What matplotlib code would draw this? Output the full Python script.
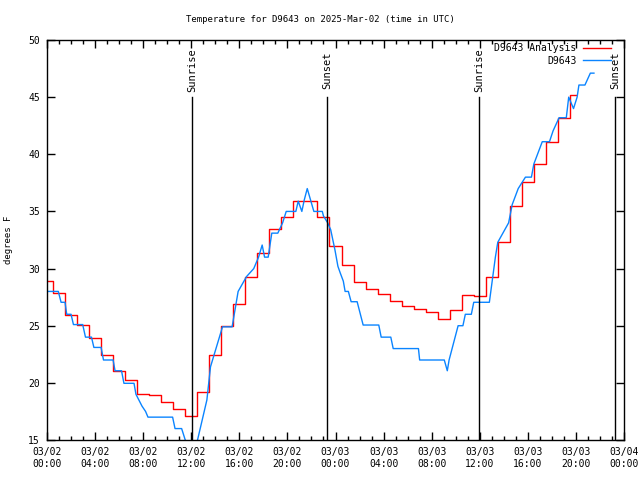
import matplotlib
matplotlib.use("Agg")
import matplotlib.pyplot as plt

plt.rcParams["font.family"] = ["DejaVu Sans Mono"]
plt.rcParams["font.size"] = 6.5

# hourly analysis values (hours since 03/02 00:00 UTC)
analysis_hours = list(range(0, 45))
analysis_temp = [28.9, 27.9, 25.9, 25.1, 23.9, 22.4, 21.0, 20.25, 19.0, 18.9,
                 18.3, 17.7, 17.1, 19.2, 22.4, 25.0, 26.9, 29.3, 31.4, 33.5,
                 34.5, 35.9, 35.9, 34.5, 32.0, 30.3, 28.8, 28.2, 27.75, 27.2,
                 26.7, 26.5, 26.2, 25.6, 26.4, 27.7, 27.6, 29.3, 32.3, 35.5,
                 37.6, 39.15, 41.1, 43.2, 45.15]

# station observations
obs_hours = [0.0, 0.94, 1.17, 1.5, 1.64, 2.0, 2.2, 2.97, 3.2, 3.7, 3.9, 4.5,
             4.7, 5.5, 5.66, 6.2, 6.4, 7.24, 7.4, 7.9, 8.2, 8.4, 10.45, 10.65,
             11.2, 11.8, 12.3, 13.3, 13.6, 14.6, 15.4, 15.9, 16.6, 17.2, 17.6,
             17.9, 18.1, 18.4, 18.7, 19.2, 19.6, 19.9, 20.7, 20.9, 21.2, 21.4,
             21.65, 22.2, 22.9, 23.0, 23.35, 23.6, 23.96, 24.2, 24.4, 24.65,
             24.8, 25.07, 25.3, 25.8, 26.3, 27.6, 27.8, 28.6, 28.8, 30.9, 31.0,
             33.05, 33.3, 33.45, 34.2, 34.6, 34.8, 35.3, 35.5, 36.8, 37.3,
             37.5, 38.4, 38.7, 39.2, 39.8, 40.3, 40.5, 41.2, 41.8, 42.1, 42.6,
             43.2, 43.4, 43.8, 44.1, 44.25, 44.75, 45.2, 45.5]
obs_temp = [28.0, 28.0, 27.05, 27.05, 26.0, 26.0, 25.1, 25.1, 24.0, 24.0, 23.1,
            23.1, 22.0, 22.0, 21.06, 21.06, 19.96, 19.96, 19.0, 17.97, 17.5,
            17.0, 17.0, 16.0, 16.0, 14.0, 14.0, 18.5, 21.4, 24.9, 24.9, 28.0,
            29.3, 30.0, 31.0, 32.06, 31.0, 31.0, 33.1, 33.1, 34.0, 35.0, 35.0,
            35.9, 35.0, 36.0, 37.0, 35.0, 35.0, 34.6, 34.0, 33.4, 31.6, 30.2,
            29.6, 28.9, 28.0, 28.0, 27.1, 27.1, 25.06, 25.06, 24.0, 24.0, 23.0,
            23.0, 22.0, 22.0, 21.06, 22.0, 25.0, 25.0, 26.0, 26.0, 27.05,
            27.05, 31.0, 32.3, 34.0, 35.6, 37.0, 38.0, 38.0, 39.15, 41.1,
            41.1, 42.05, 43.2, 43.2, 45.0, 44.0, 45.0, 46.06, 46.06, 47.1,
            47.1]

events = ["Sunrise", "Sunset", "Sunrise", "Sunset"]
event_hours = [12.06, 23.28, 35.94, 47.27]

tick_hours = [0, 4, 8, 12, 16, 20, 24, 28, 32, 36, 40, 44, 48]
tick_labels = ["03/02\n00:00", "03/02\n04:00", "03/02\n08:00", "03/02\n12:00",
               "03/02\n16:00", "03/02\n20:00", "03/03\n00:00", "03/03\n04:00",
               "03/03\n08:00", "03/03\n12:00", "03/03\n16:00", "03/03\n20:00",
               "03/04\n00:00"]

fig = plt.figure(figsize=(6.4, 4.8), dpi=100)
ax = fig.add_axes([47 / 640, 40 / 480, 577 / 640, 400 / 480])

ax.plot(analysis_hours, analysis_temp, color="#ff0000", lw=1,
        drawstyle="steps-mid", label="D9643 Analysis")
ax.plot(obs_hours, obs_temp, color="#0a84ff", lw=1, label="D9643")

for name, h in zip(events, event_hours):
    ax.axvline(h, ymin=0, ymax=0.857, color="black", lw=1)
    ax.text(h, 0.925, name, transform=ax.get_xaxis_transform(),
            rotation=90, ha="center", va="center", fontsize=7.5)

ax.set_xlim(0, 48)
ax.set_ylim(15, 50)
ax.set_xticks(tick_hours)
ax.set_xticklabels(tick_labels)
ax.set_xticks(range(0, 49), minor=True)
ax.set_yticks([15, 20, 25, 30, 35, 40, 45, 50])
ax.tick_params(which="both", direction="in", top=True, right=True, width=1)
ax.tick_params(which="major", length=6, labelsize=7, pad=5)
ax.tick_params(which="minor", length=3)
for s in ax.spines.values():
    s.set_linewidth(1)

fig.text(0.5, 1 - 20 / 480, "Temperature for D9643 on 2025-Mar-02 (time in UTC)",
         ha="center", va="center", fontsize=6.5)
fig.text(9 / 640, 0.5, "degrees F", rotation=90, ha="center", va="center",
         fontsize=6.5)

ax.legend(loc="upper right", bbox_to_anchor=(1 - 10 / 577, 1.0),
          frameon=False, markerfirst=False, fontsize=7,
          handlelength=2.8, handletextpad=0.7, borderaxespad=0,
          borderpad=0.35, labelspacing=0.25)

fig.savefig("out.png", dpi=100)
